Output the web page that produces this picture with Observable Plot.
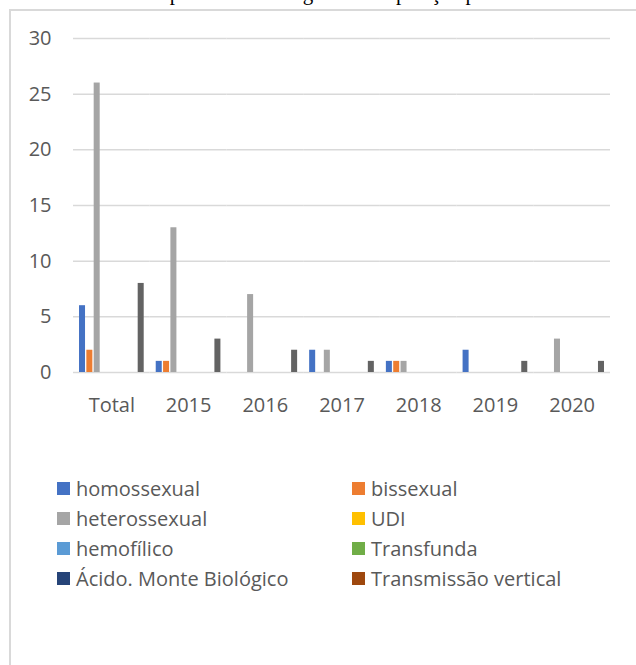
<!DOCTYPE html>
<html>
<head>
<meta charset="utf-8">
<script src="https://cdn.jsdelivr.net/npm/d3@7"></script>
<script src="https://cdn.jsdelivr.net/npm/@observablehq/plot@0.6"></script>
<style>
  html, body { margin: 0; padding: 0; background: #fff; width: 636px; height: 665px; overflow: hidden; position: relative; }
  #title { position: absolute; left: 38px; top: -17px; font-family: "Liberation Serif", "Times New Roman", serif; font-size: 21px; line-height: 21px; color: #000; white-space: nowrap; }
  #frame { position: absolute; left: 9px; top: 9px; width: 700px; height: 700px; border: 2px solid #d9d9d9; box-sizing: border-box; background: #fff; }
  #chart { position: absolute; left: 0; top: 0; }
  .leg { position: absolute; font-family: "Open Sans", sans-serif; font-size: 20px; color: #595959; white-space: nowrap; display: flex; align-items: center; height: 30px; }
  .sw { width: 13px; height: 13px; margin-right: 6px; display: inline-block; }
</style>
</head>
<body>
<div id="title">Gráfico 3: Comparativo de categoria de exposição por ano.</div>
<div id="frame"></div>
<div id="chart"></div>
<div id="legend"></div>
<script>
const categories = ["Total", "2015", "2016", "2017", "2018", "2019", "2020"];
const series = ["homossexual", "bissexual", "heterossexual", "UDI", "hemofílico", "Transfunda", "Ácido. Monte Biológico", "Transmissão vertical", "Ignorado"];
const seriesColors = ["#4472C4", "#ED7D31", "#A5A5A5", "#FFC000", "#5B9BD5", "#70AD47", "#264478", "#9E480E", "#636363"];
const legendSeries = ["homossexual", "bissexual", "heterossexual", "UDI", "hemofílico", "Transfunda", "Ácido. Monte Biológico", "Transmissão vertical"];

const homossexual   = [6, 1, 0, 2, 1, 2, 0];
const bissexual     = [2, 1, 0, 0, 1, 0, 0];
const heterossexual = [26, 13, 7, 2, 1, 0, 3];
const udi           = [0, 0, 0, 0, 0, 0, 0];
const hemofilico    = [0, 0, 0, 0, 0, 0, 0];
const transfunda    = [0, 0, 0, 0, 0, 0, 0];
const acidente      = [0, 0, 0, 0, 0, 0, 0];
const transmissao   = [0, 0, 0, 0, 0, 0, 0];
const ignorado      = [8, 3, 2, 1, 0, 1, 1];

const valuesBySeries = [homossexual, bissexual, heterossexual, udi, hemofilico, transfunda, acidente, transmissao, ignorado];
const rows = [];
series.forEach((s, si) => {
  categories.forEach((c, ci) => {
    rows.push({cat: c, series: s, value: valuesBySeries[si][ci]});
  });
});

const chart = Plot.plot({
  width: 636,
  height: 430,
  marginLeft: 73,
  marginRight: 26,
  marginTop: 38,
  marginBottom: 58,
  style: {fontFamily: "'Open Sans', sans-serif", fontSize: "20px", color: "#595959", background: "transparent", overflow: "visible"},
  fx: {domain: categories, padding: 0, round: false, axis: "bottom", tickSize: 0, tickPadding: 25, label: null},
  x: {domain: series, paddingInner: 0.18, paddingOuter: 0.82, round: false, axis: null},
  y: {domain: [0, 30], ticks: 6, tickSize: 0, tickPadding: 22, label: null},
  color: {domain: series, range: seriesColors},
  marks: [
    Plot.gridY({ticks: 6, stroke: "#d9d9d9", strokeOpacity: 1, strokeWidth: 1.5}),
    Plot.barY(rows.filter(d => d.value > 0), {fx: "cat", x: "series", y: "value", fill: "series"})
  ]
});
document.getElementById("chart").appendChild(chart);

const legend = document.getElementById("legend");
const colX = [57, 352];
const rowY = [473, 503, 533, 563];
legendSeries.forEach((s, i) => {
  const el = document.createElement("div");
  el.className = "leg";
  el.style.left = colX[i % 2] + "px";
  el.style.top = rowY[Math.floor(i / 2)] + "px";
  const sw = document.createElement("span");
  sw.className = "sw";
  sw.style.background = seriesColors[series.indexOf(s)];
  el.appendChild(sw);
  el.appendChild(document.createTextNode(s));
  legend.appendChild(el);
});
</script>
</body>
</html>
